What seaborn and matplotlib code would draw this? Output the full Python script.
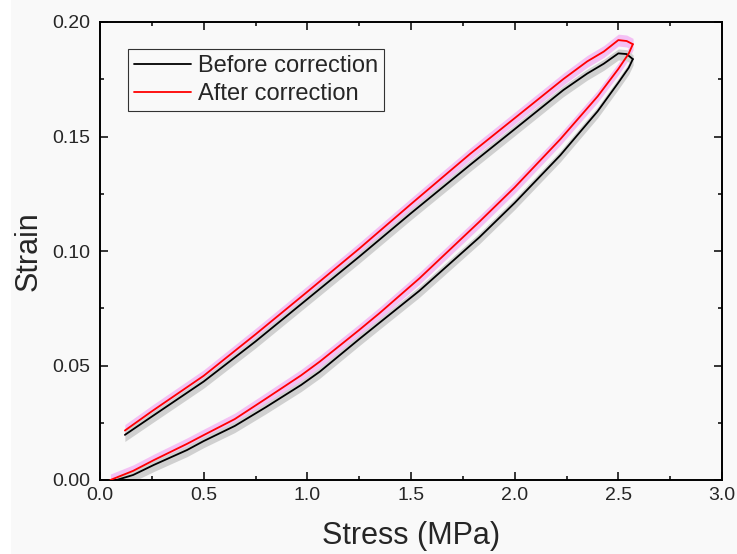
import numpy as np
import matplotlib
matplotlib.use("Agg")
import matplotlib.pyplot as plt
from matplotlib.patches import Rectangle
from matplotlib.ticker import MultipleLocator
import seaborn as sns

# ---------------- data ----------------
# Loading branch (upper curve) - before correction (black)
up_black_x = [0.12, 0.25, 0.50, 0.75, 1.00, 1.25, 1.50, 1.785, 2.00, 2.235, 2.35, 2.43, 2.50, 2.54, 2.57]
up_black_y = [0.0197, 0.0277, 0.0430, 0.0605, 0.0790, 0.0975, 0.1165, 0.1376, 0.1532, 0.1703, 0.1775, 0.1818, 0.1863, 0.1860, 0.1838]
# Loading branch (upper curve) - after correction (red)
up_red_x = [0.12, 0.25, 0.50, 0.75, 1.00, 1.25, 1.50, 1.785, 2.00, 2.235, 2.35, 2.43, 2.50, 2.54, 2.57]
up_red_y = [0.0216, 0.0300, 0.0455, 0.0636, 0.0822, 0.1010, 0.1205, 0.1424, 0.1580, 0.1751, 0.1828, 0.1871, 0.1921, 0.1917, 0.1903]
# Unloading branch (lower curve) - before correction (black)
lo_black_x = [0.08, 0.16, 0.26, 0.42, 0.50, 0.65, 0.80, 0.97, 1.06, 1.25, 1.35, 1.54, 1.83, 2.00, 2.22, 2.40, 2.50, 2.55, 2.57]
lo_black_y = [0.0000, 0.0022, 0.0066, 0.0131, 0.0170, 0.0236, 0.0318, 0.0415, 0.0473, 0.0615, 0.0688, 0.0826, 0.1060, 0.1210, 0.1418, 0.1610, 0.1735, 0.1800, 0.1838]
# Unloading branch (lower curve) - after correction (red)
lo_red_x = [0.05, 0.16, 0.26, 0.42, 0.50, 0.65, 0.80, 0.97, 1.06, 1.25, 1.35, 1.54, 1.83, 2.00, 2.22, 2.40, 2.50, 2.55, 2.57]
lo_red_y = [0.0000, 0.0040, 0.0087, 0.0158, 0.0196, 0.0266, 0.0355, 0.0457, 0.0517, 0.0655, 0.0730, 0.0880, 0.1128, 0.1278, 0.1488, 0.1675, 0.1795, 0.1862, 0.1903]
# half-width of the shaded scatter bands
band_black = 0.0024
band_red = 0.0026

labels = ["Before correction", "After correction"]
x_ticks = [0.0, 0.5, 1.0, 1.5, 2.0, 2.5, 3.0]
y_ticks = [0.00, 0.05, 0.10, 0.15, 0.20]

# ---------------- style ----------------
sns.set_style("ticks")
plt.rcParams["font.family"] = ["Liberation Sans", "DejaVu Sans"]
BG = "#f9f9f9"

fig = plt.figure(figsize=(7.37, 5.54), dpi=100)
fig.patch.set_facecolor("white")
fig.add_artist(Rectangle((11 / 737, 0), 1, 1, transform=fig.transFigure,
                         facecolor=BG, edgecolor="none", zorder=-10))
ax = fig.add_axes([100 / 737, 1 - 480 / 554, 622 / 737, 458 / 554])
ax.set_facecolor(BG)

# bands
for xs, ys in [(up_red_x, up_red_y), (lo_red_x, lo_red_y)]:
    ya = np.array(ys)
    ax.fill_between(xs, ya - band_red, ya + band_red, color="#f4c0f4", lw=0, zorder=1)
for xs, ys in [(up_black_x, up_black_y), (lo_black_x, lo_black_y)]:
    ya = np.array(ys)
    ax.fill_between(xs, ya - band_black * 1.2, ya + band_black * 0.8,
                    color="#d0d0d0", lw=0, zorder=2)

# lines
sns.lineplot(x=up_black_x, y=up_black_y, color="black", lw=1.3, sort=False,
             estimator=None, ax=ax, label=labels[0], zorder=4)
sns.lineplot(x=lo_black_x, y=lo_black_y, color="black", lw=1.3, sort=False,
             estimator=None, ax=ax, zorder=4)
sns.lineplot(x=up_red_x, y=up_red_y, color="#ff0000", lw=1.3, sort=False,
             estimator=None, ax=ax, label=labels[1], zorder=5)
sns.lineplot(x=lo_red_x, y=lo_red_y, color="#ff0000", lw=1.3, sort=False,
             estimator=None, ax=ax, zorder=5)

ax.set_xlim(0, 3.0)
ax.set_ylim(0, 0.20)
ax.set_xticks(x_ticks)
ax.set_yticks(y_ticks)
ax.set_xticklabels([f"{v:.1f}" for v in x_ticks])
ax.set_yticklabels([f"{v:.2f}" for v in y_ticks])
ax.xaxis.set_minor_locator(MultipleLocator(0.25))
ax.yaxis.set_minor_locator(MultipleLocator(0.025))
ax.tick_params(which="both", direction="in", top=True, right=True, width=1.1, color="black")
ax.tick_params(which="major", length=6, labelsize=14)
ax.tick_params(axis="x", which="major", pad=5)
ax.tick_params(axis="y", which="major", pad=7)
ax.tick_params(which="minor", length=3)
for s in ax.spines.values():
    s.set_visible(True)
    s.set_linewidth(1.4)
    s.set_color("black")

ax.set_xlabel("Stress (MPa)", fontsize=22, labelpad=12)
ax.set_ylabel("Strain", fontsize=22, labelpad=6)

leg = ax.legend(loc="upper left", bbox_to_anchor=((128 - 100) / 622, (480 - 49) / 458),
                borderaxespad=0, fontsize=17, frameon=True, fancybox=False,
                handlelength=2.4, handletextpad=0.3, labelspacing=0.25,
                borderpad=0.25, edgecolor="#333333", facecolor=BG, framealpha=1)
leg.get_frame().set_linewidth(0.8)
for h in leg.get_lines():
    h.set_linewidth(1.3)

fig.savefig("out.png", dpi=100, facecolor=fig.get_facecolor())
